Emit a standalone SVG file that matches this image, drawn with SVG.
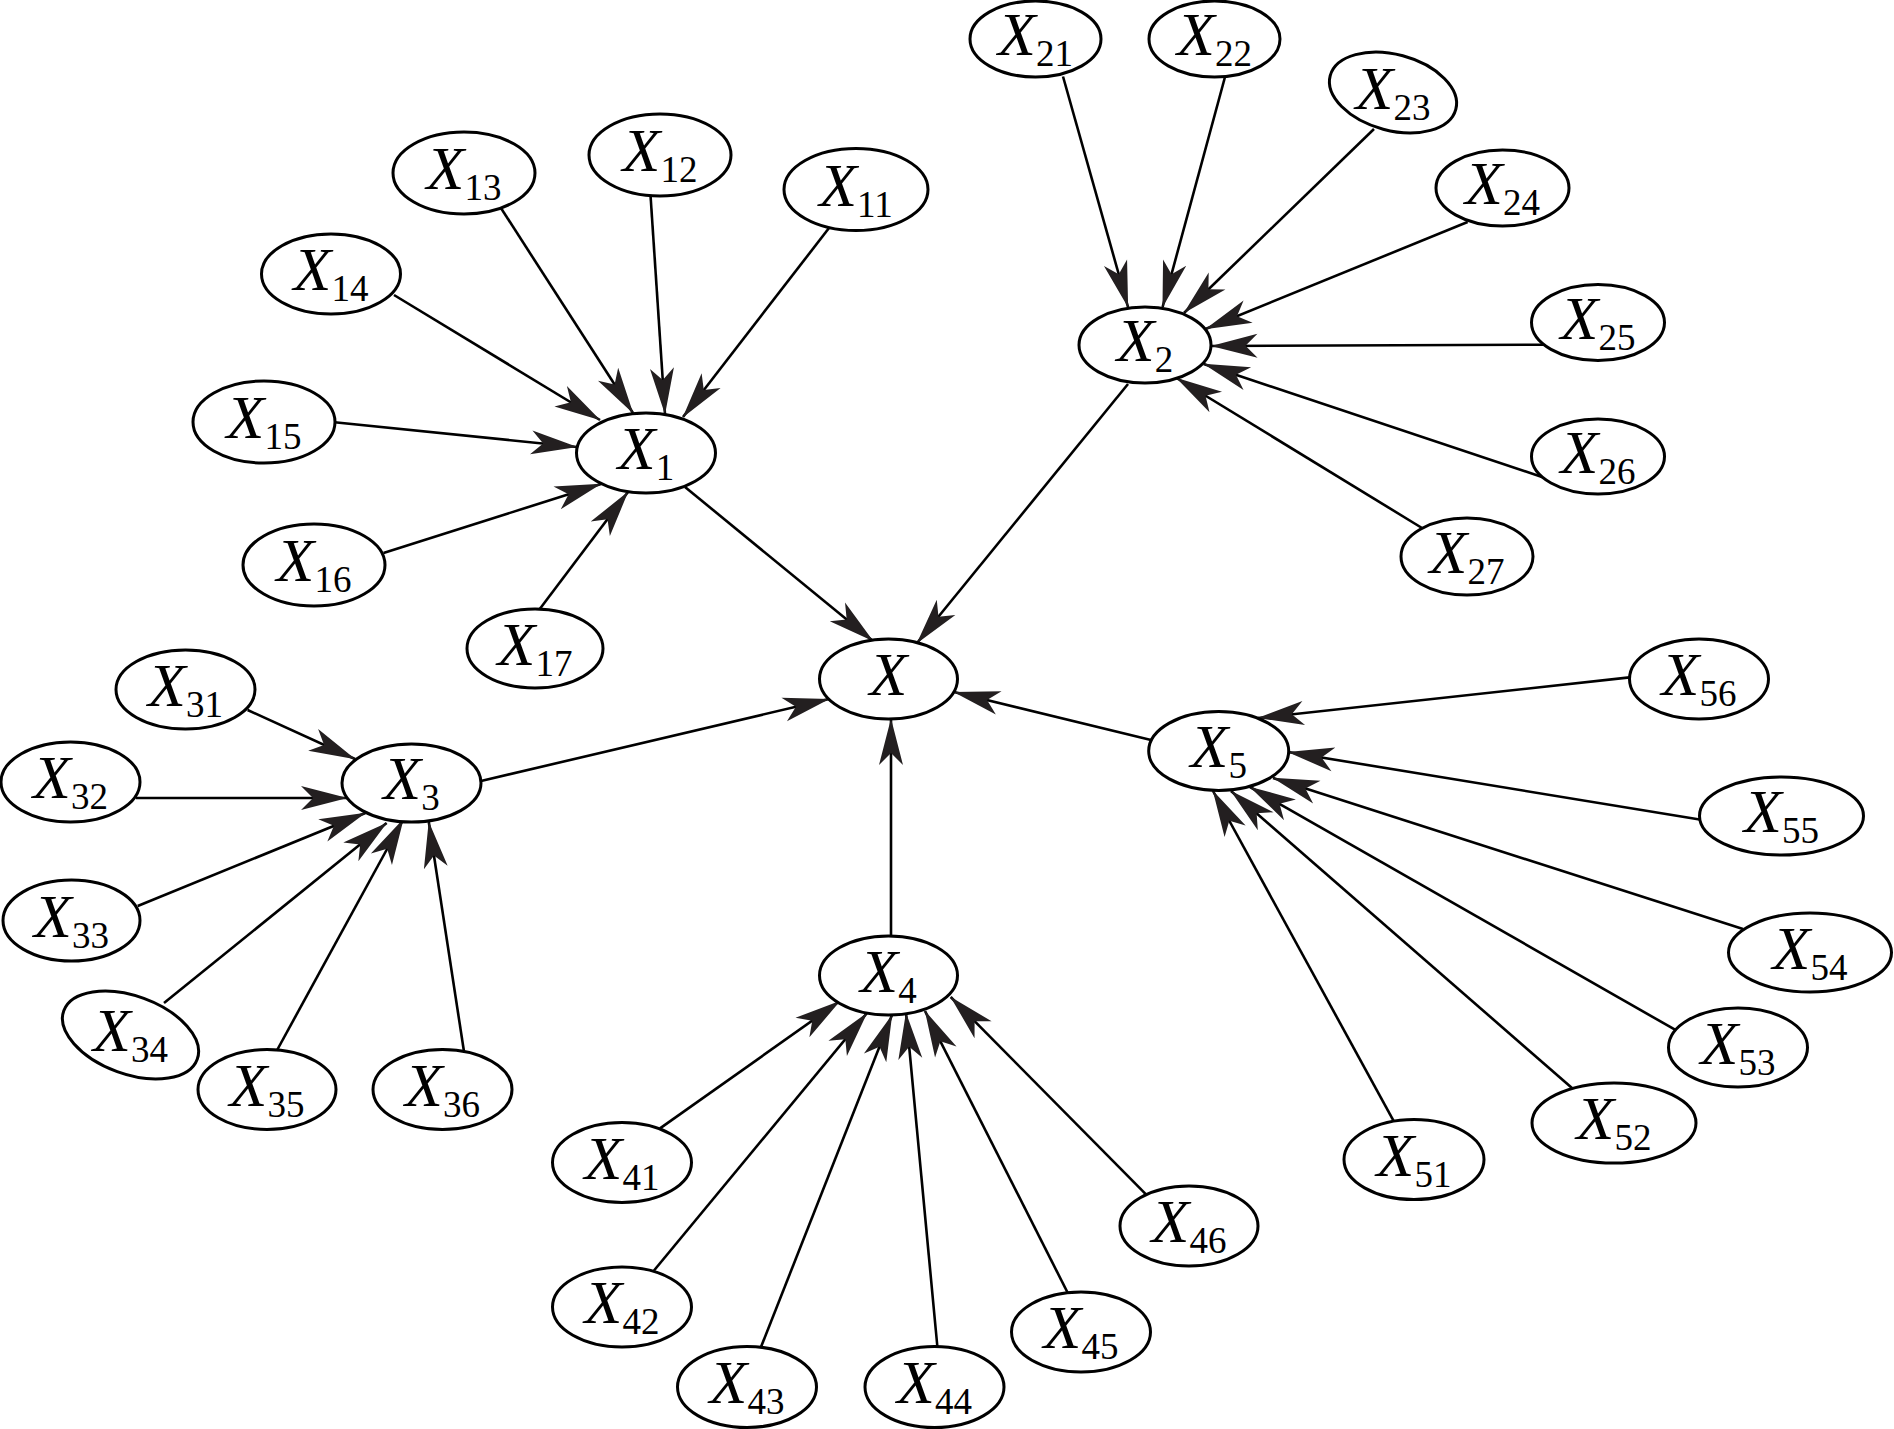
<svg xmlns="http://www.w3.org/2000/svg" width="1894" height="1429" viewBox="0 0 1894 1429">
<style>
.n{fill:#fff;stroke:#000;stroke-width:3}
.t{font-family:"Liberation Serif","Times New Roman",serif;font-size:62px;font-style:italic;fill:#000;text-anchor:middle}
.s{font-size:37px;font-style:normal}
.e line{stroke:#000;stroke-width:2.6;marker-end:url(#ah)}
</style>
<defs>
<marker id="ah" viewBox="-48 -13 50 26" refX="0" refY="0" markerWidth="50" markerHeight="26" markerUnits="userSpaceOnUse" orient="auto">
<path d="M0.5,0 L-46,-12 L-34,0 L-46,12 Z" fill="#231f20"/>
</marker>
</defs>
<rect width="1894" height="1429" fill="#fff"/>
<g id="connectors" class="e">
<line x1="829" y1="228" x2="683" y2="417"/>
<line x1="650.5" y1="195" x2="665" y2="414"/>
<line x1="499" y1="205" x2="633" y2="413"/>
<line x1="394" y1="295" x2="600" y2="420"/>
<line x1="332" y1="422" x2="577" y2="447"/>
<line x1="383.5" y1="553" x2="601" y2="484"/>
<line x1="539" y1="610" x2="628" y2="492"/>
<line x1="685" y1="487" x2="873" y2="641"/>
<line x1="1128" y1="384" x2="917" y2="643"/>
<line x1="481" y1="781" x2="829" y2="699"/>
<line x1="1151" y1="740" x2="954" y2="692"/>
<line x1="891" y1="936" x2="891" y2="719"/>
<line x1="1063" y1="76.5" x2="1128" y2="307"/>
<line x1="1225" y1="77" x2="1162.6" y2="307"/>
<line x1="1374" y1="129" x2="1184" y2="313"/>
<line x1="1467.6" y1="222" x2="1205.5" y2="329"/>
<line x1="1545" y1="344.7" x2="1211.5" y2="346"/>
<line x1="1545" y1="478" x2="1203.7" y2="364"/>
<line x1="1422" y1="528" x2="1176.5" y2="378"/>
<line x1="247.6" y1="710" x2="355" y2="759"/>
<line x1="136" y1="798" x2="347" y2="798"/>
<line x1="137.7" y1="906" x2="365.4" y2="813"/>
<line x1="164" y1="1003" x2="386.6" y2="823"/>
<line x1="276.6" y1="1051" x2="403.5" y2="819"/>
<line x1="463.9" y1="1051" x2="428.8" y2="822"/>
<line x1="660" y1="1128.4" x2="840" y2="1001"/>
<line x1="654" y1="1270.5" x2="867" y2="1013"/>
<line x1="761" y1="1347" x2="892" y2="1015"/>
<line x1="937.4" y1="1347" x2="906" y2="1013"/>
<line x1="1067.8" y1="1293" x2="925" y2="1011"/>
<line x1="1146" y1="1194.4" x2="950.7" y2="997"/>
<line x1="1394" y1="1121.6" x2="1213" y2="791"/>
<line x1="1572" y1="1088" x2="1231" y2="791"/>
<line x1="1675" y1="1029.7" x2="1250" y2="787"/>
<line x1="1743" y1="929" x2="1273" y2="778"/>
<line x1="1699.6" y1="819.5" x2="1288" y2="752"/>
<line x1="1629.6" y1="677.4" x2="1258" y2="718"/>
</g>
<g id="X"><ellipse class="n" cx="888.5" cy="679" rx="69" ry="40"/><text class="t" x="888.5" y="695">X</text></g>
<g id="X1"><ellipse class="n" cx="646" cy="453" rx="69.5" ry="40"/><text class="t" x="646" y="469">X<tspan class="s" dy="11">1</tspan></text></g>
<g id="X11"><ellipse class="n" cx="856" cy="189.5" rx="72" ry="41"/><text class="t" x="856" y="205.5">X<tspan class="s" dy="11">11</tspan></text></g>
<g id="X12"><ellipse class="n" cx="660" cy="155" rx="71" ry="41"/><text class="t" x="660" y="171">X<tspan class="s" dy="11">12</tspan></text></g>
<g id="X13"><ellipse class="n" cx="464" cy="173" rx="71" ry="41"/><text class="t" x="464" y="189">X<tspan class="s" dy="11">13</tspan></text></g>
<g id="X14"><ellipse class="n" cx="331" cy="274" rx="69.5" ry="40"/><text class="t" x="331" y="290">X<tspan class="s" dy="11">14</tspan></text></g>
<g id="X15"><ellipse class="n" cx="264" cy="422" rx="71" ry="41"/><text class="t" x="264" y="438">X<tspan class="s" dy="11">15</tspan></text></g>
<g id="X16"><ellipse class="n" cx="314" cy="565" rx="71" ry="41"/><text class="t" x="314" y="581">X<tspan class="s" dy="11">16</tspan></text></g>
<g id="X17"><ellipse class="n" cx="535" cy="648.5" rx="68" ry="39.5"/><text class="t" x="535" y="664.5">X<tspan class="s" dy="11">17</tspan></text></g>
<g id="X2"><ellipse class="n" cx="1145" cy="345" rx="66" ry="38"/><text class="t" x="1145" y="361">X<tspan class="s" dy="11">2</tspan></text></g>
<g id="X21"><ellipse class="n" cx="1035.5" cy="39" rx="65.5" ry="38"/><text class="t" x="1035.5" y="55">X<tspan class="s" dy="11">21</tspan></text></g>
<g id="X22"><ellipse class="n" cx="1214.5" cy="39" rx="65.5" ry="38"/><text class="t" x="1214.5" y="55">X<tspan class="s" dy="11">22</tspan></text></g>
<g id="X23"><ellipse class="n" cx="1393" cy="92.5" rx="65" ry="38" transform="rotate(15 1393 92.5)"/><text class="t" x="1393" y="108.5">X<tspan class="s" dy="11">23</tspan></text></g>
<g id="X24"><ellipse class="n" cx="1502.5" cy="188" rx="66.5" ry="38"/><text class="t" x="1502.5" y="204">X<tspan class="s" dy="11">24</tspan></text></g>
<g id="X25"><ellipse class="n" cx="1598" cy="322.5" rx="66.5" ry="38"/><text class="t" x="1598" y="338.5">X<tspan class="s" dy="11">25</tspan></text></g>
<g id="X26"><ellipse class="n" cx="1598" cy="456.5" rx="66.5" ry="37.5"/><text class="t" x="1598" y="472.5">X<tspan class="s" dy="11">26</tspan></text></g>
<g id="X27"><ellipse class="n" cx="1467" cy="556.5" rx="66" ry="38.5"/><text class="t" x="1467" y="572.5">X<tspan class="s" dy="11">27</tspan></text></g>
<g id="X3"><ellipse class="n" cx="411.5" cy="783" rx="69.5" ry="39"/><text class="t" x="411.5" y="799">X<tspan class="s" dy="11">3</tspan></text></g>
<g id="X31"><ellipse class="n" cx="185.5" cy="689.5" rx="69.5" ry="39.5"/><text class="t" x="185.5" y="705.5">X<tspan class="s" dy="11">31</tspan></text></g>
<g id="X32"><ellipse class="n" cx="70.5" cy="782" rx="69.5" ry="40"/><text class="t" x="70.5" y="798">X<tspan class="s" dy="11">32</tspan></text></g>
<g id="X33"><ellipse class="n" cx="71.5" cy="920.5" rx="68.5" ry="40.5"/><text class="t" x="71.5" y="936.5">X<tspan class="s" dy="11">33</tspan></text></g>
<g id="X34"><ellipse class="n" cx="130.5" cy="1035" rx="71" ry="39" transform="rotate(20 130.5 1035)"/><text class="t" x="130.5" y="1051">X<tspan class="s" dy="11">34</tspan></text></g>
<g id="X35"><ellipse class="n" cx="267" cy="1089.5" rx="69" ry="40"/><text class="t" x="267" y="1105.5">X<tspan class="s" dy="11">35</tspan></text></g>
<g id="X36"><ellipse class="n" cx="442.5" cy="1089.5" rx="69.5" ry="40"/><text class="t" x="442.5" y="1105.5">X<tspan class="s" dy="11">36</tspan></text></g>
<g id="X4"><ellipse class="n" cx="888.5" cy="975.5" rx="69" ry="39.5"/><text class="t" x="888.5" y="991.5">X<tspan class="s" dy="11">4</tspan></text></g>
<g id="X41"><ellipse class="n" cx="622" cy="1162.5" rx="69.5" ry="40"/><text class="t" x="622" y="1178.5">X<tspan class="s" dy="11">41</tspan></text></g>
<g id="X42"><ellipse class="n" cx="622" cy="1307" rx="69.5" ry="40"/><text class="t" x="622" y="1323">X<tspan class="s" dy="11">42</tspan></text></g>
<g id="X43"><ellipse class="n" cx="747" cy="1387" rx="69.5" ry="40.5"/><text class="t" x="747" y="1403">X<tspan class="s" dy="11">43</tspan></text></g>
<g id="X44"><ellipse class="n" cx="934.5" cy="1387" rx="69.5" ry="40.5"/><text class="t" x="934.5" y="1403">X<tspan class="s" dy="11">44</tspan></text></g>
<g id="X45"><ellipse class="n" cx="1081" cy="1332" rx="69.5" ry="40"/><text class="t" x="1081" y="1348">X<tspan class="s" dy="11">45</tspan></text></g>
<g id="X46"><ellipse class="n" cx="1189" cy="1226" rx="69" ry="40"/><text class="t" x="1189" y="1242">X<tspan class="s" dy="11">46</tspan></text></g>
<g id="X5"><ellipse class="n" cx="1218.7" cy="751" rx="70" ry="39.5"/><text class="t" x="1218.7" y="767">X<tspan class="s" dy="11">5</tspan></text></g>
<g id="X51"><ellipse class="n" cx="1414" cy="1159.6" rx="70" ry="40"/><text class="t" x="1414" y="1175.6">X<tspan class="s" dy="11">51</tspan></text></g>
<g id="X52"><ellipse class="n" cx="1614" cy="1123" rx="82" ry="40"/><text class="t" x="1614" y="1139">X<tspan class="s" dy="11">52</tspan></text></g>
<g id="X53"><ellipse class="n" cx="1738" cy="1047.5" rx="69.5" ry="39.5"/><text class="t" x="1738" y="1063.5">X<tspan class="s" dy="11">53</tspan></text></g>
<g id="X54"><ellipse class="n" cx="1810" cy="952.5" rx="81.5" ry="39.5"/><text class="t" x="1810" y="968.5">X<tspan class="s" dy="11">54</tspan></text></g>
<g id="X55"><ellipse class="n" cx="1781.5" cy="816" rx="82" ry="39"/><text class="t" x="1781.5" y="832">X<tspan class="s" dy="11">55</tspan></text></g>
<g id="X56"><ellipse class="n" cx="1699" cy="679" rx="69.5" ry="40"/><text class="t" x="1699" y="695">X<tspan class="s" dy="11">56</tspan></text></g>
</svg>
